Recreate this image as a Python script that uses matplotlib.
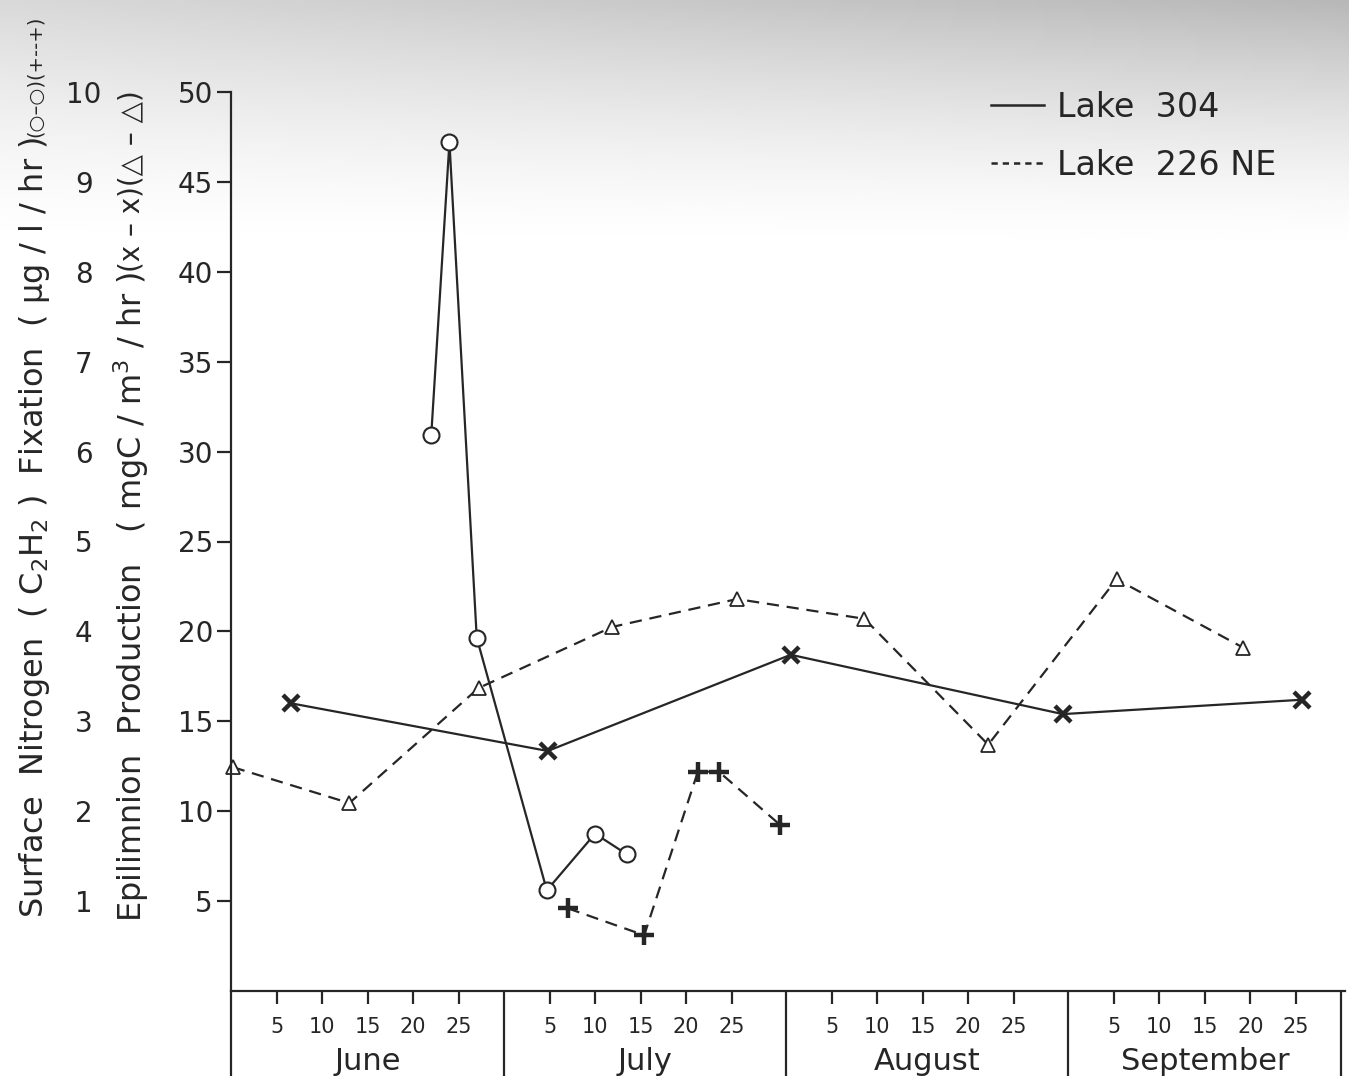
import numpy as np
import matplotlib
matplotlib.use("Agg")
import matplotlib.pyplot as plt
from matplotlib.lines import Line2D
from matplotlib.ticker import FixedLocator, FuncFormatter, NullFormatter

plt.rcParams['font.family'] = ['DejaVu Sans']

INK = '#262626'

# days are counted from May 31 so that each month label sits on "day 0" of its month
MONTH_OFFSET = {'May': -31, 'Jun': 0, 'Jul': 30, 'Aug': 61, 'Sep': 92}
MONTH_NAMES = ['June', 'July', 'August', 'September']
MONTH_BOUNDS = [0, 30, 61, 92, 122]
DAY_TICKS = [5, 10, 15, 20, 25]


def season_day(stamp):
    mon, day = stamp.split()
    return MONTH_OFFSET[mon] + float(day)


# surface nitrogen fixation, ug/l/hr (outer scale 0-10)
nfix_304_dates = ['Jun 22', 'Jun 24', 'Jun 27', 'Jul 4.7', 'Jul 10', 'Jul 13.5']
nfix_304 = [6.18, 9.44, 3.93, 1.12, 1.75, 1.52]

nfix_226_dates = ['Jul 7', 'Jul 15.4', 'Jul 21.3', 'Jul 23.6', 'Jul 30.3']
nfix_226 = [0.92, 0.62, 2.44, 2.44, 1.85]

# epilimnion production, mgC/m3/hr (scale 0-50)
prod_304_dates = ['Jun 6.6', 'Jul 4.8', 'Jul 31.5', 'Aug 30.4', 'Sep 25.7']
prod_304 = [16.0, 13.35, 18.7, 15.4, 16.2]

prod_226_dates = ['May 31.2', 'Jun 13', 'Jun 27.2', 'Jul 11.9', 'Jul 25.6',
                  'Aug 8.6', 'Aug 22.2', 'Sep 5.3', 'Sep 19.2']
prod_226 = [12.45, 10.45, 16.85, 20.25, 21.8, 20.7, 13.7, 22.9, 19.1]

fig = plt.figure(figsize=(13.49, 10.91), dpi=100)
fig.patch.set_facecolor('white')

# scanner shading along the top edge of the page
bg = fig.add_axes([0, 0, 1, 1], zorder=-10)
yy, xx = np.mgrid[0:1:400j, 0:1:300j]
shade = (0.15 + 0.13 * xx) * np.clip(1 - yy / 0.23, 0, 1) ** 1.5
bg.imshow(1 - shade, cmap='gray', vmin=0, vmax=1, aspect='auto',
          extent=[0, 1, 0, 1], origin='upper')
bg.set_axis_off()

ax = fig.add_axes([231 / 1349, 100 / 1091, 1114 / 1349, 899 / 1091])
ax.set_facecolor('none')
ax.set_xlim(0, 122.4)
ax.set_ylim(0, 50)

dash = (0, (5.5, 3.5))
LW = 1.6

ax.plot([season_day(d) for d in prod_226_dates], prod_226, color=INK, lw=LW,
        ls=dash, marker='^', ms=10, mfc='white', mec=INK, mew=1.3,
        clip_on=False)
ax.plot([season_day(d) for d in prod_304_dates], prod_304, color=INK, lw=LW,
        marker='x', ms=12, mew=3.2, mec=INK)

ax2 = ax.twinx()
ax2.set_ylim(0, 10)
ax2.plot([season_day(d) for d in nfix_304_dates], nfix_304, color=INK, lw=LW,
         marker='o', ms=11.5, mfc='white', mec=INK, mew=1.5)
ax2.plot([season_day(d) for d in nfix_226_dates], nfix_226, color=INK, lw=LW,
         ls=dash, marker='+', ms=14, mew=3.2, mec=INK)

for side in ['top', 'right']:
    ax.spines[side].set_visible(False)
for side in ['left', 'bottom']:
    ax.spines[side].set_linewidth(1.6)
    ax.spines[side].set_color(INK)
for sp in ax2.spines.values():
    sp.set_visible(False)

# production scale on the inner left side
ax.set_yticks(np.arange(5, 51, 5))
ax.tick_params(axis='y', direction='out', length=10, width=1.6, color=INK,
               labelsize=20, labelcolor=INK, pad=3)

# nitrogen scale further left, labels only
ax2.yaxis.tick_left()
ax2.set_yticks(np.arange(1, 11))
ax2.tick_params(axis='y', length=0, labelsize=20, labelcolor=INK, pad=106)
for lab in ax2.get_yticklabels():
    lab.set_horizontalalignment('center')

# month dividers as long ticks, day marks as short ones
ax.xaxis.set_major_locator(FixedLocator(MONTH_BOUNDS))
ax.xaxis.set_major_formatter(NullFormatter())
minor = [start + d for start in MONTH_BOUNDS[:-1] for d in DAY_TICKS]
ax.xaxis.set_minor_locator(FixedLocator(minor))
ax.xaxis.set_minor_formatter(FuncFormatter(lambda v, pos: DAY_TICKS[pos % 5]))
ax.tick_params(axis='x', which='major', direction='out', length=61, width=1.6,
               color=INK)
ax.tick_params(axis='x', which='minor', direction='out', length=9, width=1.6,
               color=INK, labelsize=15, labelcolor=INK, pad=10)

for name, a, b in zip(MONTH_NAMES, MONTH_BOUNDS[:-1], MONTH_BOUNDS[1:]):
    ax.text((a + b) / 2, -0.078, name, transform=ax.get_xaxis_transform(),
            ha='center', va='center', fontsize=22, color=INK)

handles = [Line2D([], [], color=INK, lw=1.8),
           Line2D([], [], color=INK, lw=1.8, ls=(0, (2.5, 2)))]
ax.legend(handles, ['Lake  304', 'Lake  226 NE'], loc='upper left',
          bbox_to_anchor=(0.655, 1.035), frameon=False, fontsize=24,
          handlelength=1.6, handletextpad=0.4, labelspacing=0.75,
          labelcolor=INK)

# rotated axis titles, each with a smaller symbol key appended
def side_title(x, y0, main, tail, size, tail_size):
    t = fig.text(x, y0, main, rotation=90, ha='center', va='bottom',
                 fontsize=size, color=INK)
    fig.canvas.draw()
    top = fig.transFigure.inverted().transform(t.get_window_extent())[1, 1]
    fig.text(x, top, tail, rotation=90, ha='center', va='bottom',
             fontsize=tail_size, color=INK)


side_title(35 / 1349, 1 - 918 / 1091,
           r'Surface  Nitrogen  ( C$_2$H$_2$ )  Fixation  ( µg / l / hr )',
           '(○–○)(+--+)', 23, 14)
side_title(131 / 1349, 1 - 922 / 1091,
           r'Epilimnion  Production   ( mgC / m$^3$ / hr )',
           '(x – x)(△ – △)', 23, 20)

fig.savefig('out.png', dpi=100)
